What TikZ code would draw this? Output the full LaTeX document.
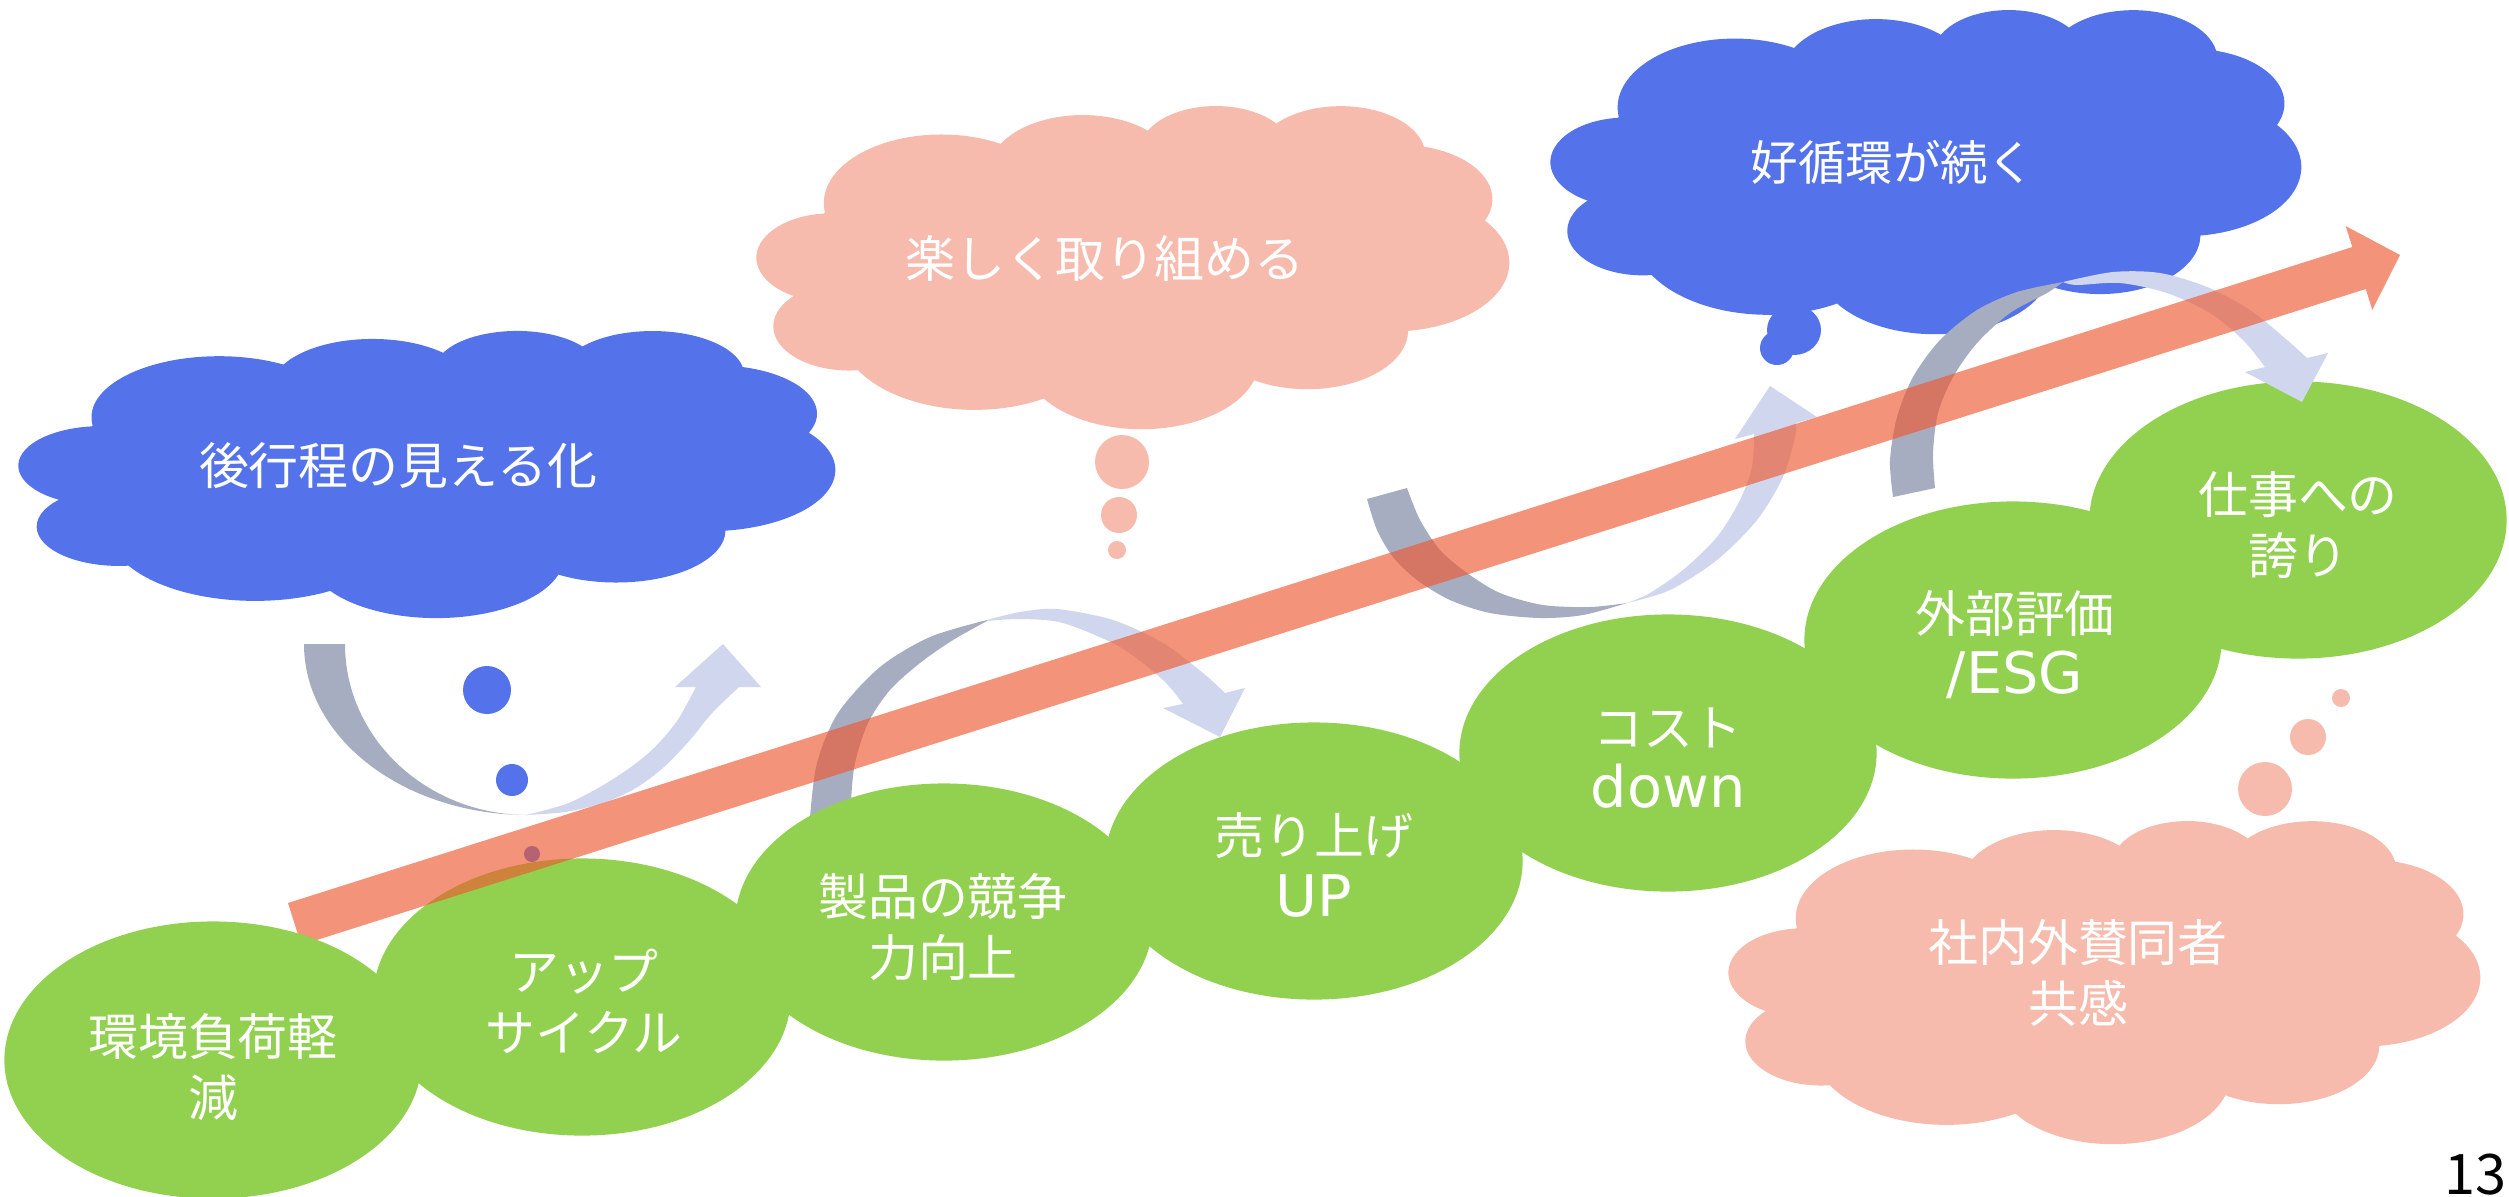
\documentclass[tikz,border=0pt]{standalone}
\usepackage{fontspec}
\newfontfamily\jpfont{Noto Sans CJK JP}
\newfontfamily\latfont{DejaVu Sans}
\usetikzlibrary{shapes.geometric}
\definecolor{cblue}{RGB}{84,115,235}
\definecolor{cpink}{RGB}{246,187,173}
\definecolor{cgreen}{RGB}{146,208,80}
\definecolor{cgray}{RGB}{167,173,192}
\definecolor{clav}{RGB}{208,214,238}
\definecolor{cred}{RGB}{237,90,50}
\newcommand\mylat[1]{{\latfont\fontsize{16.3pt}{17.4pt}\selectfont #1}}
% PowerPoint-like cloud: x y w h colour (y downwards)
\newcommand\pptcloud[5]{%
\fill[#5, shift={(#1,#2)}, xscale={#3/43.2}, yscale={#4/43.2}]
 (3.9,14.37)
 arc[start angle=-187.75, end angle=-59.63, x radius=6.753, y radius=9.19]
 arc[start angle=-152.02, end angle=-45.46, x radius=5.333, y radius=7.267]
 arc[start angle=-153.50, end angle=-37.31, x radius=4.365, y radius=5.945]
 arc[start angle=-139.69, end angle=-10.21, x radius=4.857, y radius=6.595]
 arc[start angle=-74.77, end angle=23.21, x radius=5.333, y radius=7.273]
 arc[start angle=-37.52, end angle=81.86, x radius=6.775, y radius=9.22]
 arc[start angle=0.46, end angle=121.97, x radius=5.785, y radius=7.867]
 arc[start angle=16.84, end angle=146.24, x radius=6.752, y radius=9.215]
 arc[start angle=58.98, end angle=150.20, x radius=7.72, y radius=10.543]
 arc[start angle=-276.69, end angle=-136.90, x radius=4.36, y radius=5.918]
 arc[start angle=-239.64, end angle=-95.89, x radius=4.345, y radius=5.945]
 -- cycle;}
\begin{document}
\begin{tikzpicture}[x=0.01cm,y=-0.01cm,
  greenel/.style={ellipse, fill=cgreen, minimum width=4.17cm, minimum height=2.77cm, inner sep=0pt},
  txt/.style={text=white, align=center, inner sep=0pt, font=\jpfont\fontsize{14.2pt}{17.4pt}\selectfont},
  grayarc/.style={fill=cgray},
  lavarc/.style={fill=clav},
  redarrow/.style={fill=cred, fill opacity=0.65}]
\useasboundingbox (0,0) rectangle (2509,1196);
\clip (0,0) rectangle (2509,1196);
\fill[white] (0,0) rectangle (2509,1196);

% clouds
\pptcloud{19}{330}{816}{287}{cblue}
\pptcloud{757}{105}{752}{323}{cpink}
\pptcloud{1551}{9}{750}{324}{cblue}
\pptcloud{1729}{820}{751}{323}{cpink}

% thought bubbles
\fill[cblue] (487,690) circle[radius=24];
\fill[cblue] (512,780) circle[radius=16];
\fill[cblue] (532,854) circle[radius=8];
\fill[cpink] (1122,462) circle[radius=27];
\fill[cpink] (1119,515) circle[radius=18];
\fill[cpink] (1117,550) circle[radius=9];
\fill[cpink] (2265,789) circle[radius=27];
\fill[cpink] (2308,737) circle[radius=18];
\fill[cpink] (2341,698) circle[radius=9];
\fill[cblue] (1794,330) ellipse[x radius=27, y radius=25];
\fill[cblue] (1777,348) circle[radius=17];

% curved arrow A
\fill[grayarc] (304,644) arc[start angle=180, end angle=90, x radius=224, y radius=171]
  arc[start angle=90, end angle=180, x radius=183, y radius=171] -- cycle;
\fill[lavarc] plot[smooth] coordinates {(526,815) (565,812) (603,803) (636,788) (664,767) (690,740) (712,713) (739,687)}
  -- (761,687) -- (723,644) -- (675,687) -- (696,687)
  -- plot[smooth] coordinates {(696,687) (677,721) (655,747) (631,767) (600,787) (566,804) (526,815)} -- cycle;

% curved arrow B
\fill[grayarc] plot[smooth] coordinates {(808,850) (810,817) (817,763) (838,713) (880,667) (930,637) (987,620)}
  -- plot[smooth] coordinates {(987,621) (953,640) (920,663) (890,690) (868,723) (855,763) (851,803) (851,850)} -- cycle;
\fill[lavarc] plot[smooth] coordinates {(987,620) (1020,612) (1057,609) (1113,620) (1163,643) (1203,673) (1225,693)}
  -- (1245,688) -- (1220,737) -- (1163,708) -- (1183,704)
  -- plot[smooth] coordinates {(1183,704) (1163,680) (1120,647) (1063,623) (1020,619) (987,621)} -- cycle;

% curved arrow C
\fill[grayarc] plot[smooth] coordinates {(1367,499) (1377,530) (1393,557) (1417,580) (1450,600) (1490,613) (1540,618) (1583,615) (1627,603)}
  -- plot[smooth] coordinates {(1627,603) (1590,607) (1543,605) (1500,593) (1467,573) (1440,550) (1420,520) (1407,488)} -- cycle;
\fill[lavarc] plot[smooth] coordinates {(1627,603) (1670,590) (1717,560) (1757,520) (1783,477) (1795,437) (1796,423)}
  -- (1817,417) -- (1770,386) -- (1735,439) -- (1754,434)
  -- plot[smooth] coordinates {(1754,434) (1752,467) (1740,500) (1717,537) (1683,570) (1650,593) (1627,603)} -- cycle;

% green ellipses
\node[greenel] (e2) at (582,997) {};
\node[greenel] (e3) at (944,922) {};
\node[greenel] (e4) at (1314,861) {};
\node[greenel] (e5) at (1668,753) {};
\node[greenel] (e6) at (2013,640) {};
\node[greenel] (e7) at (2298,520) {};

% curved arrow D
\fill[grayarc] plot[smooth] coordinates {(1893,497) (1890,460) (1897,417) (1913,377) (1940,340) (1977,310) (2017,292) (2063,282)}
  -- plot[smooth] coordinates {(2063,282) (2047,293) (2010,313) (1977,343) (1953,377) (1938,413) (1933,453) (1935,488)} -- cycle;
\fill[lavarc] plot[smooth] coordinates {(2063,282) (2113,272) (2160,273) (2207,287) (2250,310) (2287,340) (2307,358)}
  -- (2328,353) -- (2302,402) -- (2245,372) -- (2265,367)
  -- plot[smooth] coordinates {(2265,367) (2243,340) (2210,313) (2167,293) (2120,283) (2077,285) (2063,282)} -- cycle;

% big red arrow
\fill[redarrow] (288,903) -- (2352.3,247.0) -- (2345.7,226.1) -- (2400,255)
  -- (2372.3,309.9) -- (2365.7,289.0) -- (301.3,944.9) -- cycle;

\node[greenel] (e1) at (213,1060) {};

% labels in ellipses
\node[txt] (t1) at (213,1067) {環境負荷軽\\減};
\node[txt] (t2) at (584,1001) {アップ\\サイクル};
\node[txt] (t3) at (943,927) {製品の競争\\力向上};
\node[txt] (t4) at (1314,865) {売り上げ\\\mylat{UP}};
\node[txt] (t5) at (1668,758) {コスト\\\mylat{down}};
\node[txt] (t6) at (2015,645) {外部評価\\\mylat{/ESG}};
\node[txt] (t7) at (2298,525) {仕事への\\誇り};

% labels in clouds
\node[txt] (c1t) at (398,466) {後行程の見える化};
\node[txt] (c2t) at (1105,259) {楽しく取り組める};
\node[txt, font=\jpfont\fontsize{13.5pt}{16pt}\selectfont] (c3t) at (1893,162) {好循環が続く};
\node[txt] (c4t) at (2078,973) {社内外賛同者\\共感};

% page number
\node[anchor=base east, inner sep=0pt, font=\jpfont\fontsize{15.9pt}{18pt}\selectfont] (pg) at (2507,1194) {13};
\end{tikzpicture}
\end{document}
